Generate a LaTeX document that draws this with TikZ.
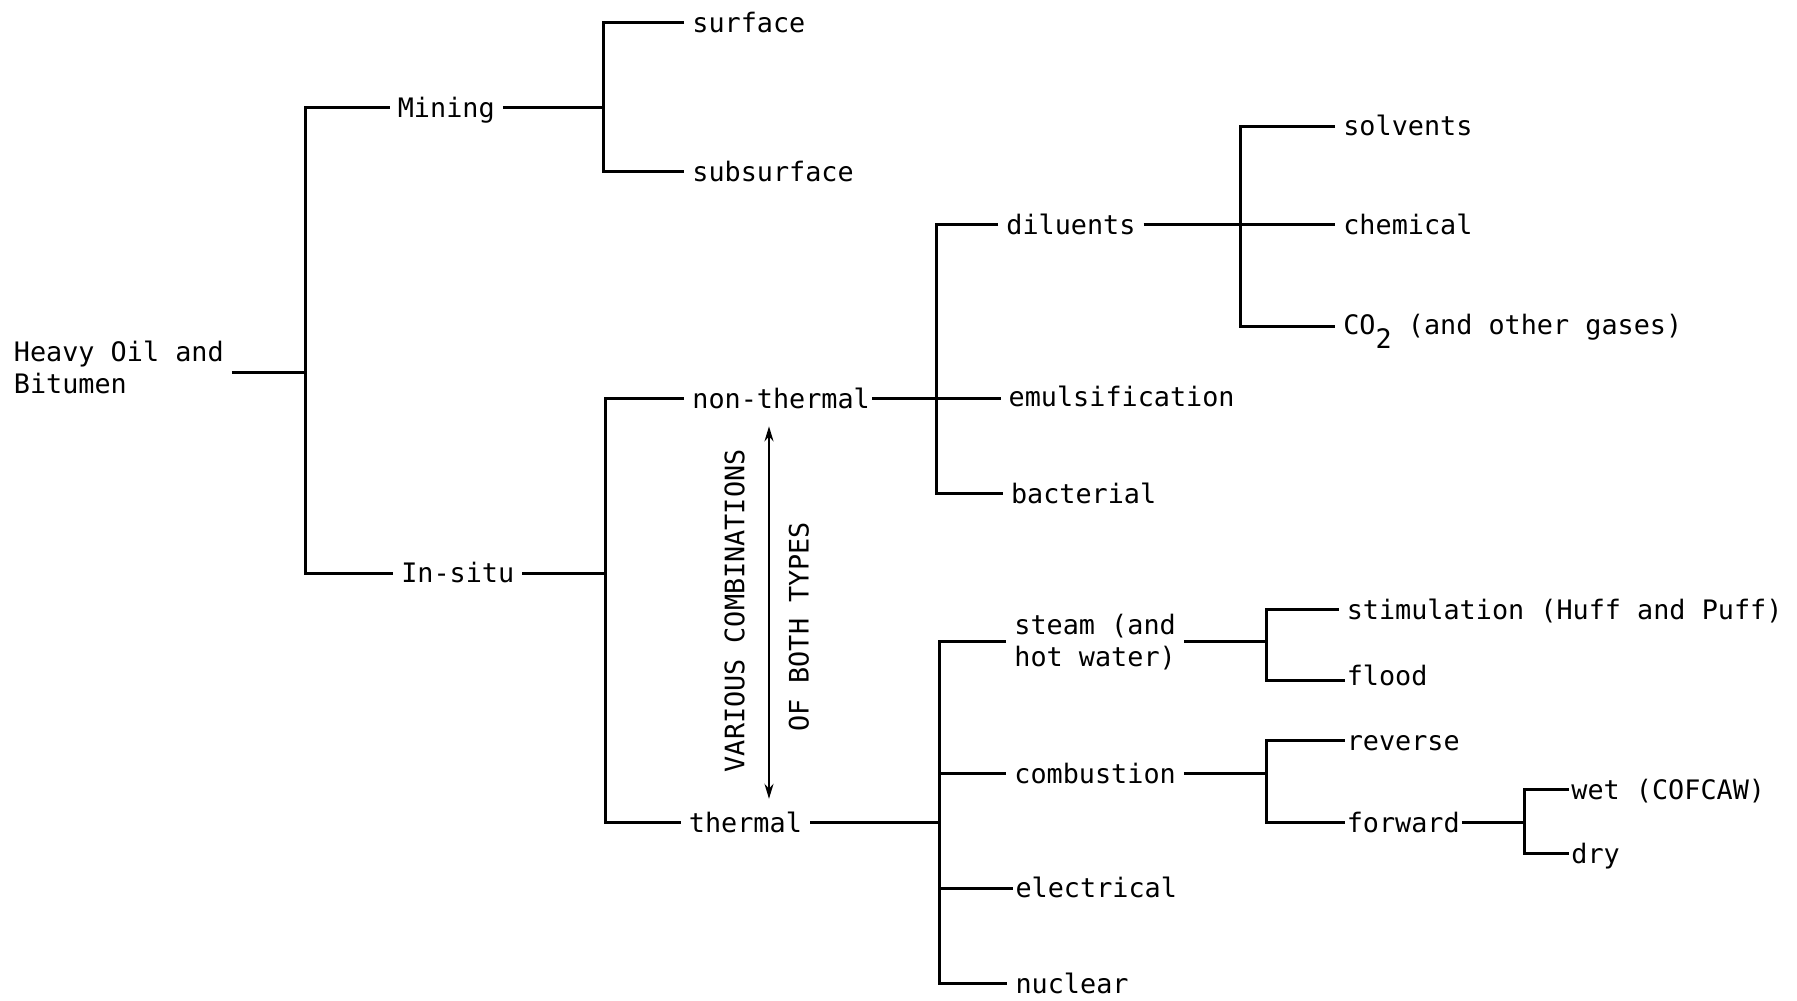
\documentclass[tikz,border=0pt]{standalone}
\usepackage{fontspec}
\setmainfont{DejaVu Sans Mono}
\usetikzlibrary{arrows.meta}
\begin{document}
\begin{tikzpicture}[x=1.146pt,y=-1.146pt,
  txt/.style={inner xsep=8pt,inner ysep=0pt,font=\fontsize{26.8pt}{32pt}\selectfont},
  lbl/.style={txt,anchor=west,text height=19.5pt,text depth=0pt},
  lbl2/.style={txt,anchor=west,align=left},
  vlbl/.style={txt,rotate=90,text height=19.5pt,text depth=0pt},
  conn/.style={line width=3pt},
  touchstart/.style={shorten <=-6pt},
  touchend/.style={shorten >=-6pt},
  twohead/.style={line width=2pt,{Stealth[length=15pt,width=9pt]}-{Stealth[length=15pt,width=9pt]}}]
\useasboundingbox (0,0) rectangle (1568,873);

% nodes
\node[lbl2] (root) at (5,321) {Heavy Oil and\\Bitumen};
\node[lbl] (mining) at (340,94) {Mining};
\node[lbl] (surface) at (597,20) {surface};
\node[lbl] (subsurface) at (597,150) {subsurface};
\node[lbl] (insitu) at (343,500) {In-situ};
\node[lbl] (nonthermal) at (597,348) {non-thermal};
\node[lbl] (thermal) at (594,718) {thermal};
\node[lbl] (diluents) at (871,196) {diluents};
\node[lbl] (emuls) at (873,346) {emulsification};
\node[lbl] (bact) at (875,431) {bacterial};
\node[lbl] (solv) at (1165,110) {solvents};
\node[lbl] (chem) at (1165,196) {chemical};
\node[lbl] (co2) at (1165,283) {CO\raisebox{-14pt}{2} (and other gases)};
\node[lbl2] (steam) at (878,560) {steam (and\\hot water)};
\node[lbl] (comb) at (878,675) {combustion};
\node[lbl] (elec) at (879,775) {electrical};
\node[lbl] (nucl) at (879,858) {nuclear};
\node[lbl] (stim) at (1168,532) {stimulation (Huff and Puff)};
\node[lbl] (flood) at (1168,590) {flood};
\node[lbl] (rev) at (1168,646) {reverse};
\node[lbl] (fwd) at (1168,718) {forward};
\node[lbl] (wet) at (1364,689) {wet (COFCAW)};
\node[lbl] (dry) at (1364,745) {dry};

\node[vlbl] (various) at (641,533) {VARIOUS COMBINATIONS};
\node[vlbl] (bothtypes) at (697,547) {OF BOTH TYPES};

% junctions
\coordinate (jroot) at (267,325);
\coordinate (jmin) at (527,94);
\coordinate (jins) at (528,500);
\coordinate (jnon) at (817,348);
\coordinate (jdil) at (1082,196);
\coordinate (jth) at (820,718);
\coordinate (jst) at (1105,560);
\coordinate (jco) at (1105,675);
\coordinate (jfw) at (1330,718);
\coordinate (atop) at (671,372);
\coordinate (abot) at (671,697);

% connectors
\draw[conn] (root.east |- jroot) -- (jroot);
\draw[conn] (mining.west) -| (jroot) |- (insitu.west);
\draw[conn] (mining.east) -- (jmin);
\draw[conn] (surface.west) -| (jmin) |- (subsurface.west);
\draw[conn] (insitu.east) -- (jins);
\draw[conn] (nonthermal.west) -| (jins) |- (thermal.west);
\draw[conn,touchstart] (nonthermal.east) -- (jnon) -- (jnon -| emuls.west);
\draw[conn] (diluents.west) -| (jnon) |- (bact.west);
\draw[conn] (diluents.east) -- (chem.west);
\draw[conn] (solv.west) -| (jdil) |- (co2.west |- 0,285);
\draw[conn] (thermal.east) -- (jth);
\draw[conn] (steam.west) -| (jth) |- (nucl.west);
\draw[conn] (jth |- comb.west) -- (comb.west);
\draw[conn,touchend] (jth |- elec.west) -- (elec.west);
\draw[conn] (steam.east) -- (jst);
\draw[conn,touchend] (stim.west) -| (jst) |- (flood.west |- 0,594);
\draw[conn] (comb.east) -- (jco);
\draw[conn,touchstart,touchend] (rev.west) -| (jco) |- (fwd.west);
\draw[conn,touchstart] (fwd.east) -- (jfw);
\draw[conn,touchstart,touchend] (wet.west) -| (jfw) |- (dry.west);
\draw[twohead] (atop) -- (abot);
\end{tikzpicture}
\end{document}
